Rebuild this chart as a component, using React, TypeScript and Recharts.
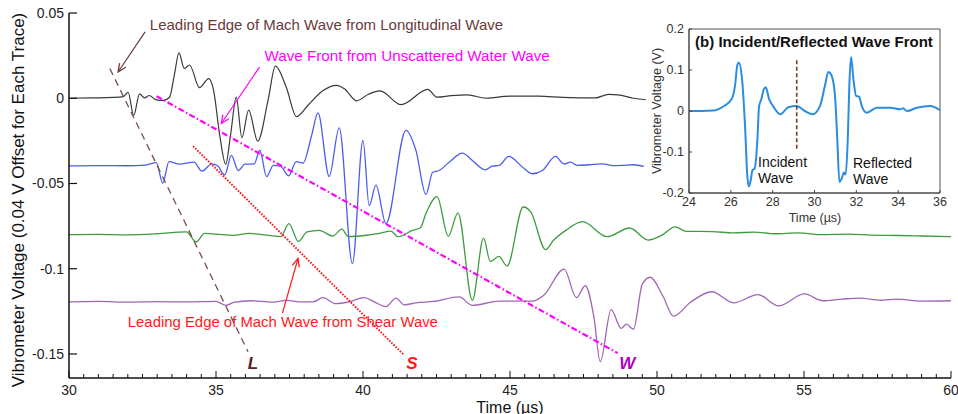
import React from 'react';
import {
  ComposedChart,
  LineChart,
  Line,
  XAxis,
  YAxis,
  ReferenceLine,
  ReferenceDot,
  ReferenceArea,
} from 'recharts';

const FONT = '"Liberation Sans", Arial, Helvetica, sans-serif';

// ---- main traces: [time (µs), voltage (V)] ----
const blackTrace: [number, number][] = [
  [30.0, 0], [30.8, 0.0002], [31.5, 0.0005], [31.85, 0.001], [32.01, 0.0035], [32.2, -0.0101],
  [32.4, 0.0026], [32.57, 0.0002], [32.73, 0.0016], [32.95, -0.0008], [33.2, -0.0013], [33.42, 0.0006],
  [33.59, 0.0143], [33.74, 0.0266], [33.92, 0.0175], [34.1, 0.0195], [34.44, 0.0062], [34.75, 0.0115],
  [34.92, 0.0045], [35.12, -0.0209], [35.33, -0.0387], [35.5, -0.0209], [35.69, 0.0006], [35.88, -0.0232],
  [36.11, -0.007], [36.42, -0.0252], [36.77, -0.0013], [37.02, 0.0188], [37.39, 0.0065], [37.74, -0.0108],
  [38.13, -0.0041], [38.64, 0.0045], [39.1, 0.0076], [39.37, 0.0055], [39.78, -0.0015], [40.2, 0.0025],
  [40.58, 0.0043], [41.3, -0.0038], [42.2, 0.0052], [42.52, 0.0006], [43.0, 0.0015], [43.55, 0.002],
  [44.18, 0.0], [45.0, 0.0012], [45.98, 0.0012], [46.8, 0.0005], [47.9, 0.0002], [48.35, 0.0023],
  [48.67, 0.002], [49.2, 0.0], [49.62, -0.0009],
];

const blueTrace: [number, number][] = [
  [30.0, -0.0397], [31.0, -0.0395], [32.0, -0.0396], [32.6, -0.0392], [32.97, -0.0378], [33.19, -0.0498],
  [33.4, -0.0372], [33.76, -0.0387], [34.25, -0.0375], [34.52, -0.0428], [34.86, -0.0385], [35.06, -0.0398],
  [35.3, -0.045], [35.52, -0.0335], [35.76, -0.0424], [35.98, -0.0387], [36.3, -0.0385], [36.49, -0.0305],
  [36.72, -0.046], [36.95, -0.0394], [37.2, -0.04], [37.47, -0.0455], [37.73, -0.0372], [37.96, -0.038],
  [38.25, -0.022], [38.47, -0.0086], [38.85, -0.0459], [39.19, -0.0174], [39.64, -0.097], [40.0, -0.0247],
  [40.21, -0.063], [40.44, -0.051], [40.78, -0.0736], [41.46, -0.0188], [41.8, -0.0306], [42.14, -0.0564],
  [42.37, -0.0434], [42.59, -0.0424], [42.93, -0.0375], [43.38, -0.0322], [43.72, -0.0365], [44.15, -0.042],
  [44.4, -0.0398], [44.63, -0.0394], [44.96, -0.0341], [45.4, -0.04], [45.76, -0.0443], [46.1, -0.0424],
  [46.55, -0.0341], [46.83, -0.0385], [47.06, -0.0375], [47.28, -0.0394], [47.7, -0.039], [48.14, -0.0385],
  [48.5, -0.0395], [48.81, -0.0394], [49.2, -0.039], [49.55, -0.04],
];

const greenTrace: [number, number][] = [
  [30.0, -0.08], [31.0, -0.0798], [32.0, -0.0801], [33.0, -0.0795], [33.99, -0.0784], [34.33, -0.0843],
  [34.61, -0.0793], [35.2, -0.08], [35.57, -0.0804], [36.14, -0.0793], [36.8, -0.0805], [37.2, -0.0812],
  [37.48, -0.0736], [37.8, -0.084], [38.1, -0.0784], [38.51, -0.0775], [38.97, -0.0808], [39.28, -0.0768],
  [39.5, -0.0812], [40.2, -0.0802], [40.56, -0.0793], [40.95, -0.078], [41.2, -0.0812], [41.68, -0.0775],
  [41.95, -0.076], [42.14, -0.0676], [42.52, -0.0577], [42.9, -0.081], [43.23, -0.0672], [43.72, -0.1185],
  [44.1, -0.0821], [44.33, -0.0957], [44.62, -0.0928], [44.9, -0.0984], [45.45, -0.0638], [45.71, -0.0668],
  [46.21, -0.0888], [46.48, -0.0833], [46.9, -0.0775], [47.47, -0.0724], [48.3, -0.0812], [49.07, -0.0761],
  [49.7, -0.0832], [50.2, -0.08], [50.61, -0.0754], [51.0, -0.0781], [51.87, -0.0782], [52.6, -0.079],
  [53.3, -0.0785], [54.0, -0.0795], [54.8, -0.079], [55.6, -0.08], [56.5, -0.0797], [57.3, -0.0803],
  [58.2, -0.0805], [59.0, -0.0808], [60.0, -0.0812],
];

const purpleTrace: [number, number][] = [
  [30.0, -0.1195], [31.0, -0.1192], [32.0, -0.1196], [33.0, -0.1193], [34.0, -0.1195], [35.0, -0.1192],
  [35.34, -0.1215], [35.6, -0.1198], [36.2, -0.1188], [36.9, -0.1196], [37.4, -0.1186], [37.84, -0.1194],
  [38.3, -0.1195], [38.63, -0.117], [39.08, -0.1205], [39.53, -0.1194], [40.04, -0.117], [40.38, -0.1194],
  [40.78, -0.1222], [41.12, -0.1172], [41.4, -0.1212], [41.8, -0.12], [42.4, -0.1192], [43.27, -0.1165],
  [43.72, -0.1215], [44.63, -0.119], [45.76, -0.119], [46.15, -0.1155], [46.84, -0.1002], [47.26, -0.117],
  [47.56, -0.11], [47.85, -0.128], [48.07, -0.1545], [48.44, -0.124], [48.78, -0.135], [48.96, -0.1325],
  [49.2, -0.1355], [49.5, -0.109], [49.77, -0.105], [50.2, -0.116], [50.56, -0.1278], [51.15, -0.1195],
  [51.87, -0.1135], [52.6, -0.12], [53.44, -0.1152], [54.13, -0.1218], [55.01, -0.1148], [55.64, -0.1188],
  [56.3, -0.1178], [56.9, -0.1172], [57.6, -0.1185], [58.16, -0.1178], [59.0, -0.119], [60.0, -0.1188],
];

// ---- inset trace ----
const insetTrace: [number, number][] = [
  [24.0, 0], [24.6, 0.0], [25.16, 0.001], [25.64, 0.011], [26.04, 0.029], [26.2, 0.062], [26.31, 0.112],
  [26.38, 0.118], [26.52, 0.086], [26.68, -0.037], [26.79, -0.16], [26.86, -0.184], [26.95, -0.169],
  [27.03, -0.145], [27.14, -0.14], [27.27, -0.07], [27.35, 0.012], [27.46, 0.029], [27.57, 0.052],
  [27.67, 0.058], [27.83, 0.029], [28.02, 0.012], [28.37, -0.008], [28.74, 0.009], [29.14, 0.012],
  [29.54, 0.0], [29.91, -0.008], [30.26, 0.012], [30.5, 0.062], [30.66, 0.095], [30.82, 0.086],
  [30.98, 0.037], [31.09, -0.07], [31.19, -0.173], [31.3, -0.165], [31.41, -0.15], [31.49, -0.155],
  [31.59, -0.07], [31.67, 0.07], [31.75, 0.132], [31.86, 0.078], [31.99, 0.037], [32.13, 0.035],
  [32.26, 0.012], [32.5, -0.004], [32.98, 0.008], [33.62, 0.008], [34.1, 0.004], [34.23, 0.007],
  [34.42, 0.0], [34.9, 0.008], [35.54, 0.012], [36.0, 0.002],
];

// ---- axes ----
const xMajorTicks = [30, 35, 40, 45, 50, 55, 60];
const xMajorLabels = ['30', '35', '40', '45', '50', '55', '60'];
const xAllTicks = [
  30, 30.5, 31, 31.5, 32, 32.5, 33, 33.5, 34, 34.5, 35, 35.5, 36, 36.5, 37, 37.5, 38, 38.5, 39, 39.5,
  40, 40.5, 41, 41.5, 42, 42.5, 43, 43.5, 44, 44.5, 45, 45.5, 46, 46.5, 47, 47.5, 48, 48.5, 49, 49.5,
  50, 50.5, 51, 51.5, 52, 52.5, 53, 53.5, 54, 54.5, 55, 55.5, 56, 56.5, 57, 57.5, 58, 58.5, 59, 59.5, 60,
];
const yTicks = [0.05, 0, -0.05, -0.1, -0.15];
const yTickLabels = ['0.05', '0', '-0.05', '-0.1', '-0.15'];

const insetXTicks = [24, 26, 28, 30, 32, 34, 36];
const insetXLabels = ['24', '26', '28', '30', '32', '34', '36'];
const insetYTicks = [0.2, 0.1, 0, -0.1, -0.2];
const insetYLabels = ['0.2', '0.1', '0', '-0.1', '-0.2'];

// ---- annotation geometry (data coordinates) ----
const lSegment = [{ x: 31.39, y: 0.0174 }, { x: 36.09, y: -0.1487 }];
const sSegment = [{ x: 34.22, y: -0.0281 }, { x: 41.4, y: -0.1507 }];
const wSegment = [{ x: 32.98, y: 0.0012 }, { x: 48.66, y: -0.1495 }];
const lArrow = [{ x: 32.59, y: 0.0389 }, { x: 31.67, y: 0.0154 }];
const wArrow = [{ x: 36.48, y: 0.0183 }, { x: 35.18, y: -0.0148 }];
const sArrow = [{ x: 37.26, y: -0.126 }, { x: 37.79, y: -0.094 }];
const insetMarker = [{ x: 29.15, y: 0.124 }, { x: 29.15, y: -0.092 }];

const rows = (a: [number, number][]) => a.map(([t, v]) => ({ t, v }));

const arrowShape = (color: string) => (p: any) => {
  const { x1, y1, x2, y2 } = p;
  const ang = Math.atan2(y2 - y1, x2 - x1);
  const L = 9;
  const W = 0.42;
  const ax = x2 - L * Math.cos(ang - W);
  const ay = y2 - L * Math.sin(ang - W);
  const bx = x2 - L * Math.cos(ang + W);
  const by = y2 - L * Math.sin(ang + W);
  return (
    <g>
      <line x1={x1} y1={y1} x2={x2} y2={y2} stroke={color} strokeWidth={1.2} />
      <polyline points={`${ax},${ay} ${x2},${y2} ${bx},${by}`} fill="none" stroke={color} strokeWidth={1.3} />
    </g>
  );
};

const textShape =
  (text: string, color: string, size: number, extra: any = {}) =>
  (p: any) =>
    (
      <text
        x={p.cx}
        y={p.cy}
        fill={color}
        fontSize={size}
        fontFamily={FONT}
        dominantBaseline="central"
        textAnchor={extra.anchor || 'start'}
        fontWeight={extra.weight || 'normal'}
        fontStyle={extra.style || 'normal'}
      >
        {text}
      </text>
    );

const MainXTick = (p: any) => {
  const { x, y, payload } = p;
  const idx = xMajorTicks.indexOf(payload.value);
  const major = idx >= 0;
  return (
    <g>
      <line x1={x} x2={x} y1={y} y2={y - (major ? 7 : 4)} stroke="#111" strokeWidth={1} />
      {major && (
        <text x={x} y={y + 12} textAnchor="middle" dominantBaseline="central" fontSize={14} fill="#222" fontFamily={FONT}>
          {xMajorLabels[idx]}
        </text>
      )}
    </g>
  );
};

const MainYTick = (p: any) => {
  const { x, y, payload } = p;
  const idx = yTicks.indexOf(payload.value);
  return (
    <g>
      <line x1={x} x2={x + 8} y1={y} y2={y} stroke="#111" strokeWidth={1.2} />
      <text x={x - 5} y={y} textAnchor="end" dominantBaseline="central" fontSize={14} fill="#222" fontFamily={FONT}>
        {yTickLabels[idx]}
      </text>
    </g>
  );
};

const InsetXTick = (p: any) => {
  const { x, y, payload } = p;
  const idx = insetXTicks.indexOf(payload.value);
  return (
    <g>
      <line x1={x} x2={x} y1={y} y2={y - 3} stroke="#444" strokeWidth={1} />
      <text x={x} y={y + 9} textAnchor="middle" dominantBaseline="central" fontSize={12.5} fill="#333" fontFamily={FONT}>
        {insetXLabels[idx]}
      </text>
    </g>
  );
};

const InsetYTick = (p: any) => {
  const { x, y, payload } = p;
  const idx = insetYTicks.indexOf(payload.value);
  return (
    <g>
      <line x1={x} x2={x + 3} y1={y} y2={y} stroke="#444" strokeWidth={1} />
      <text x={x - 5} y={y} textAnchor="end" dominantBaseline="central" fontSize={12.5} fill="#333" fontFamily={FONT}>
        {insetYLabels[idx]}
      </text>
    </g>
  );
};

export default function App() {
  return (
    <div style={{ position: 'absolute', left: 0, top: 0, width: 958, height: 414, background: '#fff', overflow: 'hidden' }}>
      <div style={{ position: 'absolute', left: 0, top: 0 }}>
        <ComposedChart width={958} height={414} margin={{ top: 13, right: 7, bottom: 0, left: 0 }}>
          <XAxis
            type="number"
            dataKey="t"
            domain={[30, 60]}
            allowDataOverflow
            ticks={xAllTicks}
            interval={0}
            height={36}
            tickSize={0}
            tickMargin={0}
            tickLine={false}
            tick={MainXTick}
            axisLine={{ stroke: '#111', strokeWidth: 1.5 }}
          />
          <YAxis
            type="number"
            domain={[-0.1641, 0.05]}
            allowDataOverflow
            ticks={yTicks}
            interval={0}
            width={69}
            tickSize={0}
            tickMargin={0}
            tickLine={false}
            tick={MainYTick}
            axisLine={{ stroke: '#111', strokeWidth: 1.5 }}
          />
          <Line data={rows(blackTrace)} dataKey="v" type="monotone" stroke="#3a3a3a" strokeWidth={1.2} dot={false} isAnimationActive={false} />
          <Line data={rows(blueTrace)} dataKey="v" type="monotone" stroke="#4c5cf2" strokeWidth={1.3} dot={false} isAnimationActive={false} />
          <Line data={rows(greenTrace)} dataKey="v" type="monotone" stroke="#3f9b3f" strokeWidth={1.3} dot={false} isAnimationActive={false} />
          <Line data={rows(purpleTrace)} dataKey="v" type="monotone" stroke="#a065b5" strokeWidth={1.3} dot={false} isAnimationActive={false} />

          <ReferenceLine segment={lSegment} stroke="#7b4b4b" strokeWidth={1.3} strokeDasharray="7 5" ifOverflow="visible" />
          <ReferenceLine segment={sSegment} stroke="#ff1a1a" strokeWidth={2} strokeDasharray="1.6 1.4" ifOverflow="visible" />
          <ReferenceLine segment={wSegment} stroke="#ff00ff" strokeWidth={2.2} strokeDasharray="6 2.5 1.5 2.5" ifOverflow="visible" />

          <ReferenceLine segment={lArrow} ifOverflow="visible" shape={arrowShape('#6b3a3a')} />
          <ReferenceLine segment={wArrow} ifOverflow="visible" shape={arrowShape('#ff00ff')} />
          <ReferenceLine segment={sArrow} ifOverflow="visible" shape={arrowShape('#ff1a1a')} />

          <ReferenceDot x={32.75} y={0.0434} ifOverflow="visible" shape={textShape('Leading Edge of Mach Wave from Longitudinal Wave', '#6b3a3a', 15)} />
          <ReferenceDot x={36.65} y={0.0252} ifOverflow="visible" shape={textShape('Wave Front from Unscattered Water Wave', '#ff00ff', 15.2)} />
          <ReferenceDot x={32.0} y={-0.1311} ifOverflow="visible" shape={textShape('Leading Edge of Mach Wave from Shear Wave', '#ff1a1a', 14.9)} />
          <ReferenceDot x={36.26} y={-0.1555} ifOverflow="visible" shape={textShape('L', '#5a2323', 17, { anchor: 'middle', weight: 'bold', style: 'italic' })} />
          <ReferenceDot x={41.66} y={-0.1555} ifOverflow="visible" shape={textShape('S', '#ff1a1a', 17, { anchor: 'middle', weight: 'bold', style: 'italic' })} />
          <ReferenceDot x={48.99} y={-0.1555} ifOverflow="visible" shape={textShape('W', '#b000c0', 17, { anchor: 'middle', weight: 'bold', style: 'italic' })} />
        </ComposedChart>
      </div>

      <div style={{ position: 'absolute', left: 648, top: 0, width: 310, height: 224, background: '#fff' }}>
        <LineChart width={310} height={224} margin={{ top: 29, right: 18, bottom: 0, left: 0 }}>
          <XAxis
            type="number"
            dataKey="t"
            domain={[24, 36]}
            allowDataOverflow
            ticks={insetXTicks}
            interval={0}
            height={31}
            tickSize={0}
            tickMargin={0}
            tickLine={false}
            tick={InsetXTick}
            axisLine={{ stroke: '#444', strokeWidth: 1 }}
          />
          <YAxis
            type="number"
            domain={[-0.2, 0.2]}
            allowDataOverflow
            ticks={insetYTicks}
            interval={0}
            width={41}
            tickSize={0}
            tickMargin={0}
            tickLine={false}
            tick={InsetYTick}
            axisLine={{ stroke: '#444', strokeWidth: 1 }}
          />
          <ReferenceArea x1={24} x2={36} y1={-0.2} y2={0.2} fill="none" stroke="#555" strokeWidth={1} ifOverflow="visible" />
          <Line data={rows(insetTrace)} dataKey="v" type="monotone" stroke="#2b8de0" strokeWidth={2} dot={false} isAnimationActive={false} />
          <ReferenceLine segment={insetMarker} stroke="#7a3b1f" strokeWidth={1.6} strokeDasharray="4 2.5" ifOverflow="visible" />
          <ReferenceDot x={24.29} y={0.17} ifOverflow="visible" shape={textShape('(b) Incident/Reflected Wave Front', '#111', 15, { weight: 'bold' })} />
          <ReferenceDot x={27.3} y={-0.125} ifOverflow="visible" shape={textShape('Incident', '#111', 14)} />
          <ReferenceDot x={27.3} y={-0.164} ifOverflow="visible" shape={textShape('Wave', '#111', 14)} />
          <ReferenceDot x={31.84} y={-0.127} ifOverflow="visible" shape={textShape('Reflected', '#111', 14)} />
          <ReferenceDot x={31.84} y={-0.166} ifOverflow="visible" shape={textShape('Wave', '#111', 14)} />
        </LineChart>
      </div>

      <svg width={958} height={414} style={{ position: 'absolute', left: 0, top: 0, pointerEvents: 'none' }}>
        <text transform="translate(18,200) rotate(-90)" textAnchor="middle" dominantBaseline="central" fontSize={17} fill="#111" fontFamily={FONT}>
          Vibrometer Voltage (0.04 V Offset for Each Trace)
        </text>
        <text x={510} y={407} textAnchor="middle" dominantBaseline="central" fontSize={16} fill="#111" fontFamily={FONT}>
          Time (µs)
        </text>
        <text transform="translate(657,111) rotate(-90)" textAnchor="middle" dominantBaseline="central" fontSize={12.5} fill="#333" fontFamily={FONT}>
          Vibrometer Voltage (V)
        </text>
        <text x={815} y={218} textAnchor="middle" dominantBaseline="central" fontSize={12.5} fill="#333" fontFamily={FONT}>
          Time (µs)
        </text>
      </svg>
    </div>
  );
}
